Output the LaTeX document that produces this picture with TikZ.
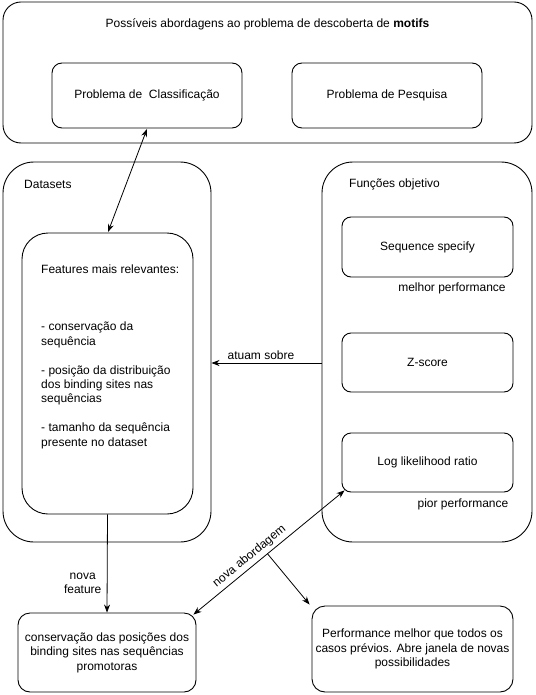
\documentclass[tikz,border=0pt]{standalone}
\usepackage{fontspec}
\setmainfont{Liberation Sans}
\usetikzlibrary{arrows.meta,calc}
\begin{document}
\begin{tikzpicture}[x=1pt,y=-1pt,
  every node/.style={font=\fontsize{12}{14.4}\selectfont},
  rbox/.style={draw, line width=0.9pt, align=center, inner sep=2pt},
  txt/.style={inner sep=0pt},
  tipa/.tip={Stealth[length=8pt,width=6pt,inset=2.5pt]},
  arr/.style={line width=0.8pt, -tipa},
  darr/.style={line width=0.8pt, tipa-tipa}
]
\useasboundingbox (0,0) rectangle (535,695);

% top group
\node[rbox, minimum width=529pt, minimum height=141pt, rounded corners=18pt] (top) at (267.5,72.5) {};
\node[txt] (title) at (267.5,24) {Possíveis abordagens ao problema de descoberta de \textbf{motifs}};
\node[rbox, minimum width=190pt, minimum height=65pt, rounded corners=10pt] (cls) at (147,95.5) {Problema de~ Classificação};
\node[rbox, minimum width=190pt, minimum height=65pt, rounded corners=10pt] (pes) at (387,95.5) {Problema de Pesquisa};

% datasets
\node[rbox, minimum width=208pt, minimum height=380pt, rounded corners=31pt] (ds) at (107,352) {};
\node[txt, anchor=west] (dslbl) at (24,184) {Datasets};
\node[rbox, minimum width=171pt, minimum height=281pt, rounded corners=26pt] (feat) at (107.5,373.5) {};
\foreach \k/\t [count=\i] in {0/Features mais relevantes:,4/- conservação da,5/sequência,7/- posição da distribuição,8/dos binding sites nas,9/sequências,11/- tamanho da sequência,12/presente no dataset}
  \node[txt, anchor=base west] (fl\i) at (41,{273.2+\k*14.4}) {\t};

% funcoes objetivo
\node[rbox, minimum width=210pt, minimum height=380pt, rounded corners=31pt] (fun) at (427,352) {};
\node[txt, anchor=west] (funlbl) at (349,184) {Funções objetivo};
\node[rbox, minimum width=171pt, minimum height=60pt, rounded corners=9pt] (seq) at (427.5,247) {Sequence specify};
\node[txt] (melhor) at (452,288) {melhor performance};
\node[rbox, minimum width=171pt, minimum height=59pt, rounded corners=9pt] (zs) at (427.5,362.5) {Z-score};
\node[rbox, minimum width=171pt, minimum height=59pt, rounded corners=9pt] (llr) at (427.5,462.5) {Log likelihood ratio};
\node[txt] (pior) at (463,504) {pior performance};

% bottom boxes
\node[rbox, minimum width=178pt, minimum height=79pt, rounded corners=12pt] (bl) at (107,652.5) {conservação das posições dos\\binding sites nas sequências\\promotoras};
\node[rbox, minimum width=201pt, minimum height=86pt, rounded corners=13pt] (rb) at (412.5,649) {Performance melhor que todos os\\casos prévios. Abre janela de novas\\possibilidades};

% connectors
\draw[darr] ($(cls.south)+(0,0.5)$) -- ($(feat.north)+(0.5,-0.5)$);
\draw[arr] ($(fun.west)+(0,11)$) -- node[pos=0.55, above] (atuam) {atuam sobre} ($(ds.east)+(0,11)$);
\draw[arr] (feat.south) -- node[pos=0.7, left, align=center, xshift=-2pt] (novaf) {nova\\feature} (bl.north);
\draw[darr] ($(bl.north east)+(-3,2)$) -- node[pos=0.41, sloped, above] (novaab) {nova abordagem} coordinate[pos=0.49] (br) ($(llr.south west)+(3,-2)$);
\draw[arr] (br) -- ($(rb.north west)+(-2,-1)$);
\end{tikzpicture}
\end{document}
